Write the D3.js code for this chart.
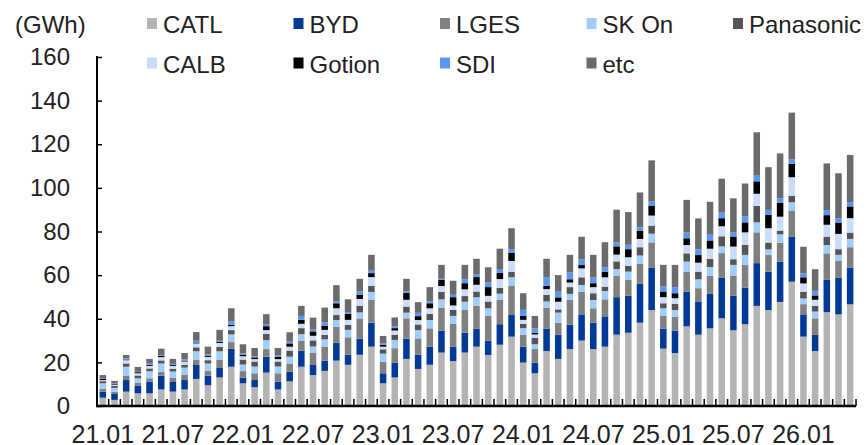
<!DOCTYPE html>
<meta charset="utf-8">
<style>
body, html {
  padding: 0;
  margin: 0;
  background: #fff;
}
svg text {
  font-family: "Liberation Sans", Arial, sans-serif;
  fill: #222;
}
</style>
<body>
<script src="https://d3js.org/d3.v7.min.js"></script>
<script>

var width = 868,
    height = 445

// months 21.01 .. 26.05
var months = [
  "21.01","21.02","21.03","21.04","21.05","21.06","21.07","21.08","21.09","21.10","21.11","21.12",
  "22.01","22.02","22.03","22.04","22.05","22.06","22.07","22.08","22.09","22.10","22.11","22.12",
  "23.01","23.02","23.03","23.04","23.05","23.06","23.07","23.08","23.09","23.10","23.11","23.12",
  "24.01","24.02","24.03","24.04","24.05","24.06","24.07","24.08","24.09","24.10","24.11","24.12",
  "25.01","25.02","25.03","25.04","25.05","25.06","25.07","25.08","25.09","25.10","25.11","25.12",
  "26.01","26.02","26.03","26.04","26.05"
]
var xTickLabels = ["21.01","21.07","22.01","22.07","23.01","23.07","24.01","24.07","25.01","25.07","26.01"]
var yTicks = [0, 20, 40, 60, 80, 100, 120, 140, 160]

var makers = ["CATL", "BYD", "LGES", "SK On", "Panasonic", "CALB", "Gotion", "SDI", "etc"]
var colors = ["#b4b4b4", "#003a96", "#808080", "#9fcdfc", "#555555", "#cadcf7", "#000000", "#5b96f5", "#6b6b6b"]

// GWh per month
var catl = [3.8,2.8,6.6,5.8,5.8,7.6,6.6,7.6,12.4,9.5,13.1,18.0,10.4,
  8.6,15.3,7.6,11.3,18.0,14.2,16.1,20.8,18.9,23.5,27.2,10.4,13.1,21.6,17.0,18.9,
  24.5,20.6,24.5,27.2,23.4,28.1,31.8,19.9,15.0,25.2,21.6,26.1,30.0,26.1,27.2,32.7,33.6,
  38.2,44.0,26.3,24.3,36.5,32.7,35.6,40.2,34.7,37.5,45.9,44.0,47.7,57.0,31.8,25.2,43.0,42.0,46.6]
var byd = [2.8,2.7,5.3,3.4,5.4,6.3,4.4,4.3,6.4,4.4,4.6,8.3,2.6,
  3.3,7.3,3.6,4.4,7.4,4.6,4.7,8.2,4.6,7.4,11.0,4.6,6.8,9.3,6.5,8.3,
  10.0,6.6,9.1,8.3,6.6,9.4,10.2,7.3,4.9,10.3,11.1,11.2,12.0,12.1,13.9,17.2,17.0,
  17.8,19.5,9.2,10.2,15.9,15.0,15.8,18.7,15.8,16.8,19.6,17.6,18.5,20.7,10.2,7.4,14.8,16.9,16.9]
var lges = [1.4,1.0,2.1,1.5,1.5,1.8,2.0,2.5,2.5,2.3,3.6,3.0,3.0,
  3.1,3.5,3.8,3.8,4.4,5.7,6.4,7.3,8.0,9.2,10.4,5.3,6.6,9.3,7.5,8.4,
  10.6,10.4,10.4,10.4,11.3,11.2,13.0,5.4,6.2,9.6,5.5,11.3,10.4,6.6,7.8,9.8,7.2,
  9.2,11.5,5.8,6.4,9.2,6.3,8.3,11.2,9.3,10.4,14.1,7.6,8.7,11.9,4.7,7.6,12.2,7.6,9.3]
var skon = [2.4,1.8,4.0,2.0,3.3,3.8,2.8,3.2,3.8,3.3,3.8,3.5,3.0,
  3.1,4.1,3.1,3.1,3.1,2.8,3.4,3.1,3.4,2.8,3.7,3.7,3.8,2.6,3.8,3.8,
  3.8,3.7,3.8,4.0,3.5,2.8,4.0,3.1,2.2,2.8,4.6,2.8,3.1,3.8,3.8,3.1,3.8,
  3.8,4.0,3.5,3.1,4.6,4.1,4.0,3.1,4.9,4.6,4.6,2.6,3.8,3.8,2.6,3.1,3.8,2.8,3.8]
var panasonic = [1.0,0.9,1.5,1.3,1.2,1.4,1.3,1.3,1.8,1.5,2.0,2.0,2.3,
  2.3,2.8,2.3,2.8,2.8,2.8,2.0,2.3,2.3,3.1,2.8,2.0,2.3,2.8,2.6,2.8,
  3.5,2.8,2.6,2.6,3.1,2.6,2.6,2.0,3.0,3.1,1.5,3.1,3.5,3.1,2.0,3.5,2.6,
  3.8,3.7,2.3,2.8,3.8,3.5,3.8,4.6,2.6,4.6,7.6,3.1,1.7,2.9,3.1,2.6,3.8,2.6,2.9]
var calb = [0.5,0.6,1.5,1.0,1.2,1.5,1.3,1.5,1.8,1.5,1.8,1.8,1.5,
  1.1,1.8,1.1,1.8,2.0,2.1,2.3,3.1,2.3,3.1,4.0,1.2,2.0,3.1,2.0,2.6,
  2.6,2.0,3.1,3.1,2.6,4.1,4.9,1.8,1.5,2.6,3.5,2.1,4.1,2.8,4.3,3.1,4.0,
  3.8,4.6,2.8,2.6,3.8,4.1,4.6,4.6,5.8,5.7,5.5,6.6,6.4,8.6,3.8,2.8,5.5,7.0,6.6]
var gotion = [0.5,0.3,0.3,0.5,0.5,0.6,0.5,0.4,0.4,0.6,0.5,0.6,0.8,
  0.8,1.8,1.1,1.5,1.8,2.0,1.8,2.3,2.8,2.0,1.8,0.9,1.1,3.1,1.8,2.3,
  2.8,3.8,2.8,3.5,4.0,2.8,3.8,1.8,0.8,1.5,2.0,1.5,1.5,1.8,2.6,3.8,3.7,
  3.8,4.6,2.6,2.3,3.1,3.5,3.8,3.7,4.6,4.6,5.7,6.1,6.4,6.1,2.8,2.0,4.4,5.2,5.4]
var sdi = [0.3,0.2,0.6,0.2,0.5,0.3,0.4,0.5,0.8,0.5,0.5,1.6,0.5,
  0.5,0.9,0.5,0.8,1.8,0.8,1.7,0.8,0.8,1.5,1.1,0.6,0.8,0.8,1.5,0.8,
  0.5,1.1,1.8,1.1,2.1,1.8,1.7,2.8,2.0,4.0,2.6,3.1,2.6,2.6,2.0,1.8,2.0,
  1.5,2.0,2.3,2.8,2.6,2.6,2.6,2.8,1.8,2.8,2.6,2.3,2.0,2.1,1.8,2.1,2.3,2.0,2.0]
var etc = [1.5,1.2,1.5,2.2,2.2,3.0,2.3,3.0,4.0,3.6,5.0,6.0,4.2,
  3.8,4.6,3.5,4.3,4.6,5.5,6.7,7.5,5.8,5.7,7.3,3.4,4.1,5.7,4.9,6.6,
  6.4,6.4,6.6,7.3,7.0,9.3,9.5,7.6,5.7,8.4,7.6,8.1,10.4,10.4,11.5,15.0,15.0,
  16.0,18.7,9.9,10.2,15.0,14.2,15.1,15.3,15.7,15.0,19.9,19.6,20.6,21.4,12.2,9.9,21.4,20.6,21.6]

var series = [catl, byd, lges, skon, panasonic, calb, gotion, sdi, etc]

var rows = months.map(function (m, i) {
  var r = {month: m}
  makers.forEach(function (k, j) { r[k] = series[j][i] })
  return r
})

var stacked = d3.stack().keys(makers)(rows)

var plot = {left: 97, right: 856, top: 57, bottom: 406}

var x = d3.scaleBand()
    .domain(months)
    .range([plot.left, plot.right])
    .paddingInner(0.44)
    .paddingOuter(0.22)

var y = d3.scaleLinear()
    .domain([0, 160])
    .range([plot.bottom, plot.top])

var color = d3.scaleOrdinal().domain(makers).range(colors)

var svg = d3.select("body").append("svg")
    .attr("width", width)
    .attr("height", height)

// bars
svg.append("g").selectAll("g")
    .data(stacked)
    .enter().append("g")
    .attr("fill", function (d) { return color(d.key) })
  .selectAll("rect")
    .data(function (d) { return d })
    .enter().append("rect")
    .attr("x", function (d) { return x(d.data.month) })
    .attr("width", x.bandwidth())
    .attr("y", function (d) { return y(d[1]) })
    .attr("height", function (d) { return y(d[0]) - y(d[1]) })

// y axis
var yAxis = svg.append("g")
    .attr("transform", "translate(" + plot.left + ",0)")
    .call(d3.axisLeft(y).tickValues(yTicks).tickSizeInner(-5).tickSizeOuter(0).tickPadding(27))
yAxis.select(".domain").remove()
yAxis.selectAll("line").attr("stroke", "#000").attr("stroke-width", 1.5)
yAxis.selectAll("text").style("font-size", "24px").attr("fill", "#222")

svg.append("line")
    .attr("x1", plot.left).attr("x2", plot.left)
    .attr("y1", plot.top - 1).attr("y2", plot.bottom)
    .attr("stroke", "#000").attr("stroke-width", 2)

// x axis, ticks between categories
var step = x.step()
var bounds = d3.range(months.length + 1).map(function (k) { return plot.left + k * step })
svg.append("g").selectAll("line")
    .data(bounds)
    .enter().append("line")
    .attr("x1", function (d) { return d }).attr("x2", function (d) { return d })
    .attr("y1", plot.bottom).attr("y2", plot.bottom - 7)
    .attr("stroke", "#000").attr("stroke-width", 1.5)

var xAxis = svg.append("g")
    .attr("transform", "translate(0," + plot.bottom + ")")
    .call(d3.axisBottom(x).tickValues(xTickLabels).tickSize(0).tickPadding(19))
xAxis.select(".domain").remove()
xAxis.selectAll("text").style("font-size", "25px").attr("fill", "#222")

svg.append("line")
    .attr("x1", plot.left - 1).attr("x2", plot.right)
    .attr("y1", plot.bottom).attr("y2", plot.bottom)
    .attr("stroke", "#000").attr("stroke-width", 2.5)

// unit
svg.append("text")
    .attr("x", 15).attr("y", 33)
    .style("font-size", "24px")
    .text("(GWh)")

// legend
var legend = svg.append("g").selectAll("g")
    .data(makers)
    .enter().append("g")
    .attr("transform", function (d, i) {
      return "translate(" + (147 + (i % 5) * 146.5) + "," + (i < 5 ? 0 : 39.5) + ")"
    })

legend.append("rect")
    .attr("x", 0).attr("y", 18)
    .attr("width", 10).attr("height", 11)
    .attr("fill", function (d) { return color(d) })

legend.append("text")
    .attr("x", 16).attr("y", 33)
    .style("font-size", "24px")
    .text(function (d) { return d })

</script>
</body>
